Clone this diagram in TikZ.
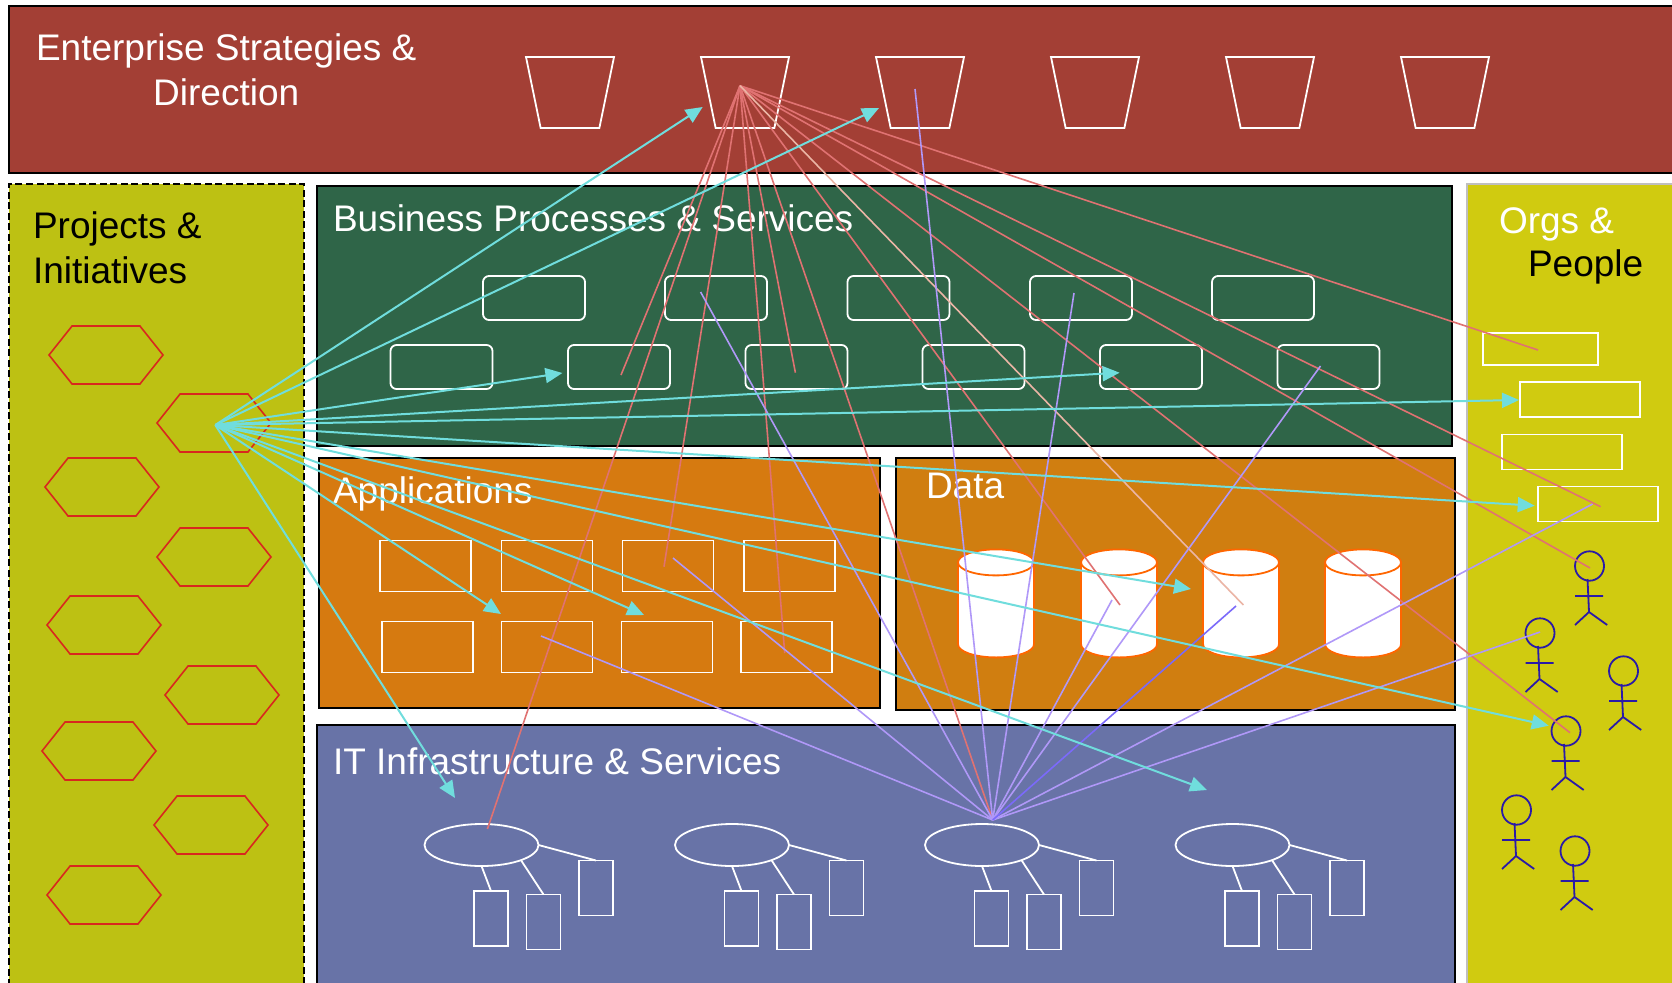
\documentclass[tikz,border=0pt]{standalone}
\usepackage{fontspec}
\setmainfont{Liberation Sans}
\usepackage{tikz}
\usetikzlibrary{positioning}
\usetikzlibrary{shapes.geometric, shapes.symbols, arrows.meta}

\definecolor{stratred}{HTML}{A33F35}
\definecolor{procgreen}{HTML}{2F6548}
\definecolor{apporange}{HTML}{D67A10}
\definecolor{dataorange}{HTML}{D07E10}
\definecolor{infrablue}{HTML}{6873A7}
\definecolor{projolive}{HTML}{BDC113}
\definecolor{orgyellow}{HTML}{D0CB10}
\definecolor{hexred}{HTML}{D8281E}
\definecolor{dbedge}{HTML}{FF6600}
\definecolor{personblue}{HTML}{2A1AA8}
\definecolor{redlink}{HTML}{E07272}
\definecolor{palelink}{HTML}{EBB5A5}
\definecolor{violetlink}{HTML}{B098F8}
\definecolor{cyanlink}{HTML}{70DDDD}

\begin{document}
\begin{tikzpicture}[
        x=1pt, y=-1pt,
        every node/.style={inner sep=0pt, outer sep=0pt},
        panel/.style={draw=black, line width=1.5pt, anchor=north west},
        title/.style={font=\fontsize{37}{45}\selectfont, text=white, anchor=west},
        darktitle/.style={title, text=black},
        whitebox/.style={draw=white, line width=1.8pt},
        goalshape/.style={whitebox, trapezium, shape border rotate=180, trapezium stretches=true,
            trapezium angle=76, inner sep=2pt, minimum width=88pt, minimum height=71pt},
        hexshape/.style={draw=hexred, line width=1.6pt, signal, signal to=east and west,
            signal pointer angle=103, minimum width=114pt, minimum height=58pt},
        procbox/.style={whitebox, rounded corners=6pt, minimum width=102pt, minimum height=44pt},
        appbox/.style={whitebox, minimum width=91pt, minimum height=51pt},
        orgbox/.style={whitebox, minimum width=120pt, minimum height=35pt},
        dbstack/.pic={
            \draw[dbedge, fill=white, line width=1.8pt] (0,41) ellipse [x radius=38, y radius=13];
            \fill[white] (-38,-41) rectangle (38,41);
            \draw[dbedge, line width=1.8pt] (-38,-41) -- (-38,41) (38,-41) -- (38,41);
            \draw[dbedge, fill=white, line width=1.8pt] (0,-41) ellipse [x radius=38, y radius=13];
        },
        serverhead/.style={whitebox, ellipse, minimum width=114pt, minimum height=42pt},
        serverbox/.style={whitebox, minimum width=34pt, minimum height=55pt},
        serverlink/.style={draw=white, line width=1.8pt},
        redline/.style={draw=redlink, line width=1.6pt},
        violetline/.style={draw=violetlink, line width=1.6pt},
        cyanline/.style={draw=cyanlink, line width=2pt, -{Triangle[length=17pt,width=15pt]}},
        stickman/.pic={
            \draw[personblue, line width=1.8pt] (0,0) ellipse [x radius=14.5, y radius=14.7];
            \draw[personblue, line width=1.8pt] (-2,13) -- (-0.5,46) (-14.5,30) -- (13.5,30)
                (-14.5,59) -- (-0.5,46) -- (17.7,59);
        }]

        \clip (0,0) rectangle (1672,982);

        \node[panel, fill=stratred, minimum width=1680pt, minimum height=167pt] (strategy) at (9,6) {};
        \node[panel, fill=projolive, dash pattern=on 7pt off 3.5pt, minimum width=295pt, minimum height=820pt] (projects) at (9,184) {};
        \node[panel, fill=procgreen, minimum width=1135pt, minimum height=260pt] (process) at (317,186) {};
        \node[panel, fill=apporange, minimum width=561pt, minimum height=250pt] (apps) at (319,458) {};
        \node[panel, fill=dataorange, minimum width=559pt, minimum height=252pt] (data) at (896,458) {};
        \node[panel, fill=infrablue, minimum width=1138pt, minimum height=280pt] (infra) at (317,725) {};
        \node[panel, draw=black!25, fill=orgyellow, minimum width=220pt, minimum height=820pt] (orgs) at (1467,184) {};

        \node[title, align=center] (strategytitle) at (36,70) {Enterprise Strategies \&\\Direction};
        \node[darktitle, align=left] (projecttitle) at (33,248) {Projects \&\\Initiatives};
        \node[title] (processtitle) at (333,218) {Business Processes \& Services};
        \node[title] (apptitle) at (333,494) {Applications};
        \node[title] (datatitle) at (926,486) {Data};
        \node[title] (infratitle) at (333,761) {IT Infrastructure \& Services};
        \node[title] (orgtitle) at (1499,224) {Orgs \&};
        \node[darktitle] (peopletitle) at (1528,267) {People};

        \foreach \n/\x in {1/570,2/745,3/920,4/1095,5/1270,6/1445}
            \node[goalshape] (goal\n) at (\x,92.5) {};

        \foreach \n/\x/\y in {1/106/355,2/214/423,3/102/487,4/214/557,5/104/625,6/222/695,7/99/751,8/211/825,9/104/895}
            \node[hexshape] (hex\n) at (\x,\y) {};

        \foreach \n/\x in {1/534,2/716,3/898.5,4/1081,5/1263}
            \node[procbox] (proctop\n) at (\x,298) {};
        \foreach \n/\x in {1/441.5,2/619,3/796.5,4/973.5,5/1151,6/1328.5}
            \node[procbox] (proclow\n) at (\x,367) {};

        \foreach \n/\x in {1/425.5,2/547,3/668,4/789.5}
            \node[appbox] (apptop\n) at (\x,566) {};
        \foreach \n/\x in {1/427.5,2/547,3/667,4/786.5}
            \node[appbox] (applow\n) at (\x,647) {};

        \foreach \n/\x in {1/996,2/1119,3/1241,4/1363}
            \pic (db\n) at (\x,603.4) {dbstack};

        \node[orgbox, minimum width=115pt, minimum height=32pt] (org1) at (1540.5,349) {};
        \foreach \n/\x/\y in {2/1580/399.5,3/1562/452,4/1598/504}
            \node[orgbox] (org\n) at (\x,\y) {};

        \foreach \x/\y in {1589.5/566,1540/633,1623.5/671,1566/731,1516.5/810,1575/851}
            \pic at (\x,\y) {stickman};

        \foreach \n/\x in {1/481.5,2/732,3/982,4/1232.5} {
            \node[serverhead] (server\n) at (\x,845) {};
            \node[serverbox] (serverA\n) at (\x+9.5,918.5) {};
            \node[serverbox] (serverB\n) at (\x+62,922) {};
            \node[serverbox] (serverC\n) at (\x+114.5,888) {};
            \draw[serverlink] (server\n.south) -- (serverA\n.north);
            \draw[serverlink] (server\n.-21) -- (serverB\n.north);
            \draw[serverlink] (server\n.east) -- (serverC\n.north);
        }

        \coordinate (redhub) at (740,85.7);
        \coordinate (violethub) at (992.7,820);
        \coordinate (cyanhub) at (215.3,425);

        \foreach \n/\x/\y in {1/621/375,2/487.4/829,3/664/566.7,4/795.4/372.7,5/784.7/653,6/992.7/820,
                7/1120/605,9/1570/732.7,10/1590/568,11/1600.6/506.7,12/1538/350} {
            \coordinate (redend\n) at (\x,\y);
            \draw[redline] (redhub) -- (redend\n);
        }
        \coordinate (redend8) at (1243.4,605);
        \draw[redline, draw=palelink] (redhub) -- (redend8);

        \foreach \n/\x/\y in {1/700.6/292,2/915/89,3/1074/293,4/1320.5/366,5/1592.6/504,6/1540/632,
                8/1112/600,9/673/558,10/541/636} {
            \coordinate (violetend\n) at (\x,\y);
            \draw[violetline] (violethub) -- (violetend\n);
        }
        \coordinate (violetend7) at (1236,606);
        \draw[violetline, draw=violetlink!70!blue] (violethub) -- (violetend7);

        \foreach \n/\x/\y in {1/702.7/107,2/879/108,3/562.4/373,4/1119.6/372.7,5/1519/400,6/1534.7/505.7,
                7/1191/589,8/1548.7/725.7,9/1207/790,10/644/615,11/501/614,12/455/798} {
            \coordinate (cyanend\n) at (\x,\y);
            \draw[cyanline] (cyanhub) -- (cyanend\n);
        }

    \end{tikzpicture}
\end{document}
